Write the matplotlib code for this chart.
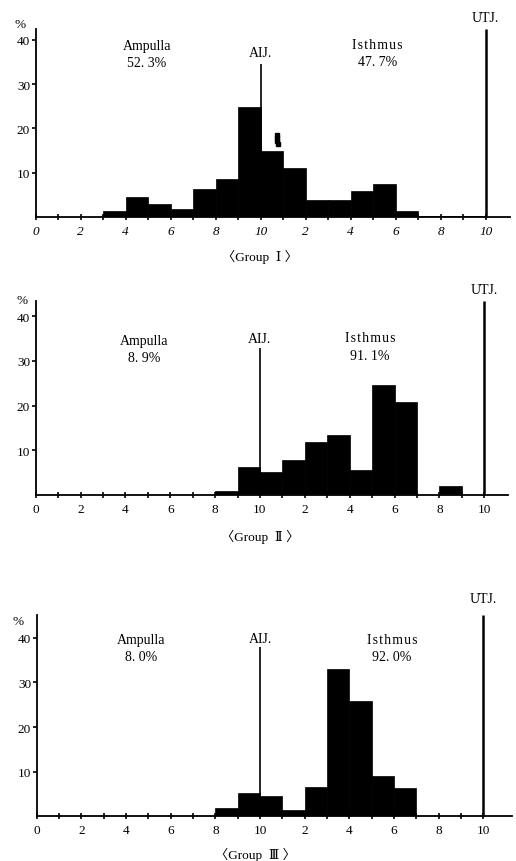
import matplotlib
matplotlib.use("Agg")
import matplotlib.pyplot as plt
import numpy as np

plt.rcParams['font.family'] = ['Liberation Serif', 'DejaVu Serif', 'Noto Sans CJK JP']

# bin left edges (1-unit bins along the tube, 0..20)
bins = list(range(20))
tick_pos = [0, 2, 4, 6, 8, 10, 12, 14, 16, 18, 20]
tick_labels = ["0", "2", "4", "6", "8", "10", "2", "4", "6", "8", "10"]

group1 = [0, 0, 0, 1.5, 4.5, 3.0, 1.9, 6.4, 8.6, 24.8, 15.0, 11.2, 3.8, 4.0, 5.9, 7.6, 1.5, 0.2, 0.2, 0.2]
group2 = [0, 0, 0, 0, 0, 0, 0, 0, 1.0, 6.3, 5.2, 7.8, 11.9, 13.5, 5.7, 24.6, 20.8, 0, 2.0, 0]
group3 = [0, 0, 0, 0, 0, 0, 0, 0, 1.9, 5.2, 4.6, 1.5, 6.6, 33.1, 25.9, 9.0, 6.4, 0, 0, 0]

ampulla_pct = ["52. 3%", "8. 9%", "8. 0%"]
isthmus_pct = ["47. 7%", "91. 1%", "92. 0%"]
group_names = ["〈Group  Ⅰ 〉", "〈Group  Ⅱ 〉", "〈Group  Ⅲ 〉"]
aij_top = [34.6, 32.9, 37.9]

W, H = 516, 862
fig = plt.figure(figsize=(W / 100, H / 100), dpi=100)

# panel geometry in pixels: left, right, baseline, top
panels = [
    dict(left=35.7, right=510, base=218.3, top=30, xmax=21.08, ymax=42.4, italic=True,
         amp=(4.93, 38.7, 34.8), aij_y=37.2, isth=(15.2, 39.0, 35.1), utj_y=44.9,
         pct=(20, 25), grp=(260, 257)),
    dict(left=35.7, right=508, base=496, top=301.7, xmax=21.06, ymax=43.5, italic=False,
         amp=(4.84, 34.7, 30.8), aij_y=35.1, isth=(14.9, 35.3, 31.3), utj_y=46.1,
         pct=(21.7, 301), grp=(260, 536.7)),
    dict(left=36.7, right=511.7, base=817.3, top=616, xmax=21.27, ymax=45.1, italic=False,
         amp=(4.67, 39.5, 35.7), aij_y=39.9, isth=(15.9, 39.5, 35.7), utj_y=48.7,
         pct=(18, 621.7), grp=(255, 855)),
]
data = [group1, group2, group3]

fs = 10
hs = "\u200a"
isthmus = hs.join("Isthmus")
for i, (p, vals) in enumerate(zip(panels, data)):
    ax = fig.add_axes([p['left'] / W, 1 - p['base'] / H,
                       (p['right'] - p['left']) / W, (p['base'] - p['top']) / H])
    ax.bar(bins, vals, width=1.0, align='edge', color='black', edgecolor='black', linewidth=0.5)
    ax.set_xlim(0, p['xmax'])
    ax.set_ylim(0, p['ymax'])
    for s in ['top', 'right']:
        ax.spines[s].set_visible(False)
    ax.spines['left'].set_linewidth(1.3)
    ax.spines['bottom'].set_linewidth(1.3)
    ax.set_xticks(tick_pos)
    ax.set_xticklabels(tick_labels, style='italic' if p['italic'] else 'normal')
    ax.set_xticks(range(21), minor=True)
    ax.tick_params(axis='x', which='both', direction='inout', length=5, width=1.2, labelsize=9.5, pad=3)
    ax.set_yticks([10, 20, 30, 40])
    ax.tick_params(axis='y', direction='out', length=3, width=1.2, labelsize=9.5, pad=1)
    # landmarks
    ax.vlines(10, 0, aij_top[i], color='black', linewidth=1.2)
    ax.vlines(20, 0, p['ymax'], color='black', linewidth=1.8, clip_on=False)
    ax.text(p['amp'][0], p['amp'][1], "Ampulla", ha='center', va='center', fontsize=fs)
    ax.text(p['amp'][0], p['amp'][2], ampulla_pct[i], ha='center', va='center', fontsize=fs)
    ax.text(10, p['aij_y'], "AIJ.", ha='center', va='center', fontsize=fs)
    ax.text(p['isth'][0], p['isth'][1], isthmus, ha='center', va='center', fontsize=fs)
    ax.text(p['isth'][0], p['isth'][2], isthmus_pct[i], ha='center', va='center', fontsize=fs)
    ax.text(20, p['utj_y'], "UTJ.", ha='center', va='center', fontsize=fs, clip_on=False)
    fig.text(p['pct'][0] / W, 1 - p['pct'][1] / H, "%", ha='center', va='center', fontsize=9.5)
    fig.text(p['grp'][0] / W, 1 - p['grp'][1] / H, group_names[i], ha='center', va='center', fontsize=9.5)
    if i == 0:
        ax.plot([10.72, 10.72, 10.74, 10.78], [18.6, 17.9, 17.2, 16.5], linestyle='none',
                marker='s', markersize=2.2, color='black')

fig.savefig("out.png", dpi=100, facecolor='white')
